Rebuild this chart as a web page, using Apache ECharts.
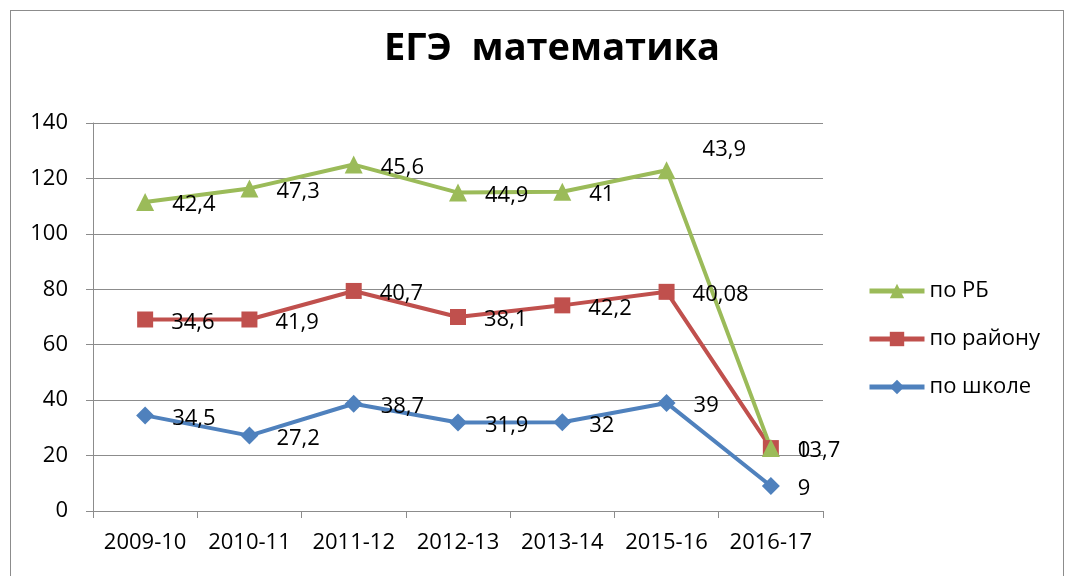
<!DOCTYPE html>
<html>
<head>
<meta charset="utf-8">
<script src="https://cdn.jsdelivr.net/npm/echarts@6/dist/echarts.min.js"></script>
<style>
  html, body { margin: 0; padding: 0; background: #fff; }
  #frame { position: absolute; left: 10px; top: 10px; width: 1052px; height: 600px; border: 1px solid #8c8c8c; }
  #chart { position: absolute; left: 0; top: 0; width: 1066px; height: 576px; }
</style>
</head>
<body>
<div id="frame"></div>
<div id="chart"></div>
<script>
var categories = ['2009-10', '2010-11', '2011-12', '2012-13', '2013-14', '2015-16', '2016-17']
var schoolValues = [34.5, 27.2, 38.7, 31.9, 32, 39, 9]
var districtValues = [34.6, 41.9, 40.7, 38.1, 42.2, 40.08, 13.7]
var rbValues = [42.4, 47.3, 45.6, 44.9, 41, 43.9, 0]

var font = '"Open Sans", "Noto Sans", sans-serif'

function fmt(p) {
  return String(p.value).replace('.', ',')
}

function makeSeries(name, data, color, symbol, size) {
  return {
    name: name,
    type: 'line',
    stack: 'total',
    data: data,
    symbol: symbol,
    symbolSize: size,
    showAllSymbol: true,
    lineStyle: { color: color, width: 4 },
    itemStyle: { color: color },
    label: {
      show: true,
      position: 'right',
      distance: 18,
      offset: [0, 3],
      formatter: fmt,
      color: '#000',
      fontFamily: font,
      fontSize: 22
    },
    animation: false,
    z: 3
  }
}

var rbSeries = makeSeries('по РБ', rbValues, '#9BBB59', 'triangle', 18)
// excel put this one label above the point
rbSeries.data = rbValues.map(function (v, i) {
  if (i === 5) return { value: v, label: { offset: [9, -20] } }
  return v
})

var chart = echarts.init(document.getElementById('chart'))
chart.setOption({
  title: {
    text: 'ЕГЭ  математика',
    left: 547,
    top: 25,
    textAlign: 'center',
    textStyle: { fontFamily: font, fontWeight: 'bold', fontSize: 38, color: '#000' }
  },
  legend: {
    orient: 'vertical',
    left: 862,
    top: 275,
    itemGap: 26,
    itemWidth: 55,
    itemHeight: 18,
    lineStyle: { width: 5 },
    data: ['по РБ', 'по району', 'по школе'],
    textStyle: { fontFamily: font, fontSize: 22, color: '#000' }
  },
  grid: { left: 93, right: 243, top: 123, bottom: 65 },
  xAxis: {
    type: 'category',
    data: categories,
    boundaryGap: true,
    axisLine: { lineStyle: { color: '#8c8c8c', width: 1 } },
    axisTick: { show: true, interval: 0, length: 7, lineStyle: { color: '#8c8c8c' } },
    axisLabel: { interval: 0, color: '#000', fontFamily: font, fontSize: 22, margin: 21 }
  },
  yAxis: {
    type: 'value',
    min: 0,
    max: 140,
    interval: 20,
    axisLine: { show: true, lineStyle: { color: '#8c8c8c', width: 1 } },
    axisTick: { show: true, length: 7, lineStyle: { color: '#8c8c8c' } },
    axisLabel: { color: '#000', fontFamily: font, fontSize: 22, margin: 25 },
    splitLine: { lineStyle: { color: '#8c8c8c', width: 1 } }
  },
  series: [
    makeSeries('по школе', schoolValues, '#4F81BD', 'diamond', 18),
    makeSeries('по району', districtValues, '#C0504D', 'rect', 16),
    rbSeries
  ]
})
</script>
</body>
</html>
